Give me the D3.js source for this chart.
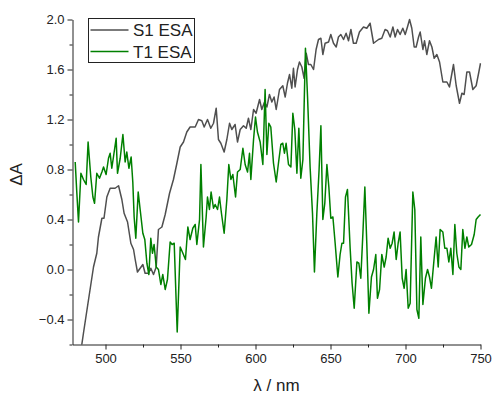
<!DOCTYPE html>
<html>
<head>
<meta charset="utf-8">
<script src="https://cdn.jsdelivr.net/npm/d3@7"></script>
<style>
  body { margin: 0; background: #fff; }
  svg { display: block; font-family: Arial, "Liberation Sans", sans-serif; }
</style>
</head>
<body>
<svg id="chart"></svg>
<script>
// wavelengths (nm) and ΔA values
const s1Wave = [480, 483, 485.3, 488.7, 492, 494.2, 495.3, 497.6, 499, 500.9, 503.1, 506.4, 508.7, 510.9, 512.4, 514.7, 516.9, 518.7, 519.8, 521.3, 523.1, 524.9, 526.4, 528.7, 530.2, 532, 533.8, 535.3, 537.6, 539.8, 542.7, 545.3, 547.6, 549.8, 552, 554.2, 556.4, 559.8, 562, 564.2, 565.8, 568, 570.2, 572, 573.8, 575.3, 576.9, 579.1, 580.9, 582.7, 584.2, 586.4, 588, 589.8, 592, 593.8, 595.3, 596.9, 598.7, 600.4, 602.7, 604.2, 606, 607.6, 609.3, 610.9, 612.4, 613.8, 616, 618.2, 619.8, 621.3, 622.7, 624.2, 625.3, 626.4, 628, 629.3, 630.9, 632.4, 633.8, 635.3, 636.9, 638.7, 640.4, 642, 643.6, 644.9, 646.4, 648.7, 650.2, 652, 653.8, 655.3, 656.9, 658.7, 660.4, 662, 663.6, 665.3, 667.1, 669.3, 672, 674.2, 676.4, 678.7, 682, 684.2, 686.4, 688, 689.8, 691.6, 693.1, 694.7, 696.4, 698.2, 699.8, 701.3, 702.7, 704.2, 705.8, 707.1, 708.7, 709.8, 711.6, 712.7, 714.2, 716, 717.6, 719.1, 720.9, 722.7, 724.9, 727.6, 729.3, 732, 733.8, 736, 737.6, 739.1, 740.9, 742.7, 744.9, 747.1, 748.9, 750];
const s1Values = [-0.92, -0.70, -0.51, -0.24, 0.02, 0.13, 0.26, 0.41, 0.41, 0.58, 0.65, 0.65, 0.67, 0.56, 0.45, 0.38, 0.21, 0.16, 0.08, -0.02, 0.01, 0.04, -0.03, -0.03, 0.01, -0.04, 0.02, 0.32, 0.34, 0.44, 0.61, 0.72, 0.85, 0.98, 1.02, 1.10, 1.14, 1.14, 1.20, 1.19, 1.14, 1.20, 1.13, 1.17, 1.29, 1.04, 1.01, 0.94, 1.04, 1.17, 1.12, 1.16, 1.02, 1.12, 1.15, 1.13, 1.21, 1.12, 1.28, 1.25, 1.36, 1.28, 1.34, 1.30, 1.40, 1.34, 1.38, 1.28, 1.44, 1.47, 1.38, 1.49, 1.56, 1.45, 1.61, 1.46, 1.60, 1.66, 1.62, 1.53, 1.73, 1.64, 1.64, 1.60, 1.76, 1.84, 1.85, 1.72, 1.81, 1.82, 1.88, 1.81, 1.78, 1.86, 1.88, 1.84, 1.89, 1.83, 1.92, 1.81, 1.81, 1.90, 1.94, 1.93, 1.97, 1.81, 1.84, 1.85, 1.92, 1.91, 1.86, 1.94, 1.86, 1.92, 1.88, 1.93, 1.88, 1.94, 2.00, 1.93, 1.78, 1.78, 1.86, 1.90, 1.76, 1.83, 1.72, 1.83, 1.78, 1.69, 1.72, 1.66, 1.50, 1.50, 1.46, 1.64, 1.47, 1.33, 1.41, 1.40, 1.58, 1.58, 1.44, 1.47, 1.58, 1.65];

const t1Wave = [479.8, 480.9, 482, 483.6, 485.3, 487.1, 488.4, 490.2, 491.6, 492.7, 494.2, 496, 497.6, 498.7, 500.4, 502, 503.1, 504.2, 505.3, 507.1, 508, 509.8, 511.6, 513.1, 514.2, 515.6, 517.1, 518.2, 519.1, 520.2, 521.8, 523.1, 524.9, 526.2, 527.6, 528.9, 530.2, 531.3, 532.4, 533.8, 535.3, 536.9, 538.2, 539.8, 541.3, 543.1, 544.4, 545.8, 547.8, 549.8, 551.6, 553.3, 554.9, 556.4, 558.2, 559.8, 560.9, 562.7, 563.6, 565.3, 567.1, 568, 569.3, 570.4, 572, 573.1, 574.7, 576, 577.3, 579.1, 580.9, 582.2, 583.6, 584.9, 586.7, 588, 589.8, 591.6, 593.1, 594.7, 596, 596.9, 598.7, 600, 601.3, 603.1, 604.9, 606.4, 607.6, 608.9, 610.2, 612, 613.8, 615.3, 616.9, 618.2, 619.3, 620.4, 622, 623.6, 624.9, 626.2, 627.6, 628.9, 630.2, 631.6, 633.3, 634.7, 636.4, 638, 639.3, 640.9, 642.4, 643.6, 644.9, 646.2, 647.6, 648.9, 650.2, 651.6, 653.1, 654.9, 656.4, 657.6, 658.7, 660, 661.3, 663.1, 664.4, 665.8, 667.6, 668.9, 670.2, 671.6, 672.9, 674.2, 675.6, 677.3, 678.7, 680.2, 681.3, 682.7, 684.2, 685.8, 687.1, 688.4, 689.8, 691.1, 692.4, 693.8, 695.1, 696.4, 697.8, 699.1, 700.4, 701.8, 703.1, 704.9, 706.2, 707.6, 708.9, 710.2, 711.6, 713.3, 714.7, 716, 717.3, 719.1, 720.4, 721.8, 723.1, 724.9, 726.2, 727.6, 728.9, 730.2, 731.6, 732.9, 734.2, 735.6, 736.9, 738.2, 739.6, 740.9, 742.2, 744, 745.8, 747.1, 748.4, 750];
const t1Values = [0.86, 0.61, 0.38, 0.77, 0.72, 0.68, 1.02, 0.74, 0.58, 0.53, 0.77, 0.73, 0.78, 0.82, 0.76, 0.89, 0.93, 0.81, 0.90, 1.05, 0.77, 0.89, 1.08, 0.86, 0.94, 0.81, 0.90, 0.70, 0.42, 0.25, 0.62, 0.48, 0.29, 0.24, 0.05, -0.04, 0.25, 0.13, 0.20, 0.02, 0.00, -0.12, -0.04, -0.16, -0.08, 0.22, 0.20, 0.21, -0.50, 0.18, 0.13, 0.08, 0.34, 0.24, 0.33, 0.36, 0.20, 0.40, 0.84, 0.18, 0.42, 0.58, 0.48, 0.62, 0.49, 0.52, 0.48, 0.58, 0.45, 0.29, 0.56, 0.84, 0.72, 0.76, 0.58, 0.78, 0.80, 0.97, 0.84, 0.78, 0.93, 0.72, 1.04, 1.22, 1.10, 1.02, 0.84, 1.44, 0.92, 1.17, 1.14, 0.85, 0.70, 0.85, 1.00, 1.01, 0.93, 1.01, 0.84, 0.82, 1.25, 1.12, 0.77, 1.13, 0.73, 0.88, 1.77, 1.38, 0.82, 0.45, -0.02, 0.45, 0.80, 1.15, 0.40, 0.53, 0.84, 0.66, 0.41, 0.42, 0.21, -0.06, 0.12, 0.21, 0.21, 0.58, 0.64, 0.17, -0.11, -0.31, 0.06, 0.05, -0.07, 0.29, 0.66, 0.21, -0.35, -0.06, 0.00, 0.12, -0.23, -0.16, 0.12, 0.02, 0.10, 0.25, 0.17, 0.21, 0.30, 0.08, 0.21, 0.30, -0.07, -0.15, 0.00, -0.31, -0.27, 0.62, 0.48, -0.32, -0.39, 0.26, -0.28, -0.07, 0.00, -0.06, -0.15, 0.09, 0.26, 0.02, 0.32, 0.30, 0.17, 0.17, 0.06, 0.17, -0.04, 0.36, 0.13, 0.02, 0.00, 0.32, 0.17, 0.26, 0.18, 0.20, 0.28, 0.40, 0.42, 0.44];

const xTicks = [500, 550, 600, 650, 700, 750];
const xMinorTicks = [525, 575, 625, 675, 725];
const yTicks = [-0.4, 0.0, 0.4, 0.8, 1.2, 1.6, 2.0];
const yMinorTicks = [-0.6, -0.2, 0.2, 0.6, 1.0, 1.4, 1.8];
const seriesNames = ["S1 ESA", "T1 ESA"];
const seriesColors = ["#4f4f4f", "#008000"];

const W = 494, H = 396;
const margin = { top: 19.5, right: 13.5, bottom: 51.5, left: 72.5 };

const svg = d3.select("#chart").attr("width", W).attr("height", H);

const x = d3.scaleLinear().domain([478, 750]).range([margin.left, W - margin.right]);
const y = d3.scaleLinear().domain([-0.6, 2.0]).range([H - margin.bottom, margin.top]);

svg.append("defs").append("clipPath").attr("id", "plot-clip")
  .append("rect")
  .attr("x", margin.left).attr("y", margin.top - 2)
  .attr("width", W - margin.left - margin.right + 1)
  .attr("height", H - margin.top - margin.bottom + 2);

//Lines
const line = d3.line().x(d => x(d[0])).y(d => y(d[1]));
const series = [
  d3.zip(s1Wave, s1Values),
  d3.zip(t1Wave, t1Values)
];
const plot = svg.append("g").attr("clip-path", "url(#plot-clip)");
series.forEach((s, i) => {
  plot.append("path")
    .datum(s)
    .attr("fill", "none")
    .attr("stroke", seriesColors[i])
    .attr("stroke-width", 1.5)
    .attr("stroke-linejoin", "round")
    .attr("d", line);
});

//Axes
const axisColor = "#222";
svg.append("g")
  .attr("transform", `translate(0,${H - margin.bottom})`)
  .call(d3.axisBottom(x).tickValues(xTicks).tickSize(5).tickPadding(4).tickSizeOuter(0));
svg.append("g")
  .attr("transform", `translate(0,${H - margin.bottom})`)
  .call(d3.axisBottom(x).tickValues(xMinorTicks).tickSize(3).tickFormat("").tickSizeOuter(0))
  .call(g => g.select(".domain").remove());

svg.append("g")
  .attr("transform", `translate(${margin.left},0)`)
  .call(d3.axisLeft(y).tickValues(yTicks).tickSize(5).tickPadding(3).tickFormat(d3.format(".1f")).tickSizeOuter(0));
svg.append("g")
  .attr("transform", `translate(${margin.left},0)`)
  .call(d3.axisLeft(y).tickValues(yMinorTicks).tickSize(3).tickFormat("").tickSizeOuter(0))
  .call(g => g.select(".domain").remove());

svg.selectAll(".domain, .tick line").attr("stroke", axisColor).attr("stroke-width", 1);
svg.selectAll(".tick text")
  .attr("fill", "#222")
  .style("font-size", "13px")
  .style("font-family", "Arial, 'Liberation Sans', sans-serif");

//Axis titles
svg.append("text")
  .attr("x", (margin.left + W - margin.right) / 2)
  .attr("y", 391)
  .attr("text-anchor", "middle")
  .attr("fill", "#222")
  .style("font-size", "17px")
  .text("λ / nm");

svg.append("text")
  .attr("transform", `translate(22,${y(0.8) + 5}) rotate(-90)`)
  .attr("text-anchor", "middle")
  .attr("fill", "#222")
  .style("font-size", "17px")
  .text("ΔA");

//Legend
const legend = svg.append("g").attr("transform", "translate(88.5,18.5)");
legend.append("rect")
  .attr("width", 106).attr("height", 44)
  .attr("fill", "#fff").attr("stroke", "#222").attr("stroke-width", 1);
seriesNames.forEach((name, i) => {
  const ly = 11.5 + i * 21.5;
  legend.append("line")
    .attr("x1", 2).attr("x2", 40).attr("y1", ly).attr("y2", ly)
    .attr("stroke", seriesColors[i]).attr("stroke-width", 1.5);
  legend.append("text")
    .attr("x", 44.5).attr("y", ly + 6)
    .attr("fill", "#222")
    .style("font-size", "17px")
    .text(name);
});
</script>
</body>
</html>
